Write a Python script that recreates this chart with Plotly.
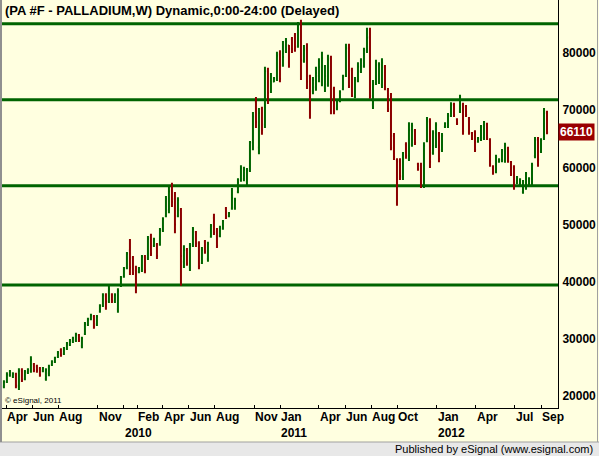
import pandas as pd
import plotly.graph_objects as go

# ---------------- data (weekly palladium futures) ----------------
open_ = [21700,22500,23700,23500,23800,21800,24500,23000,24200,24500,
         25600,25200,24800,24400,23000,24000,25500,26000,26900,28100,
         27400,28300,29000,29600,29800,30700,28800,30900,32500,33500,
         33900,32600,34800,35900,37600,36600,37800,36600,35200,39300,
         40900,42500,45500,44200,42000,41700,42000,44400,44200,47800,
         46300,46500,46500,49000,51500,52500,56800,54500,51500,52500,
         43500,45500,42500,46500,48700,46800,43300,47000,44000,47900,
         51200,48800,48000,49300,52800,51500,52800,53000,55700,57800,
         58000,57500,59500,64300,71500,63500,70200,67500,76800,73300,
         75000,75500,79800,77800,80300,81300,82400,83000,81200,85000,
         78600,80800,76000,73300,74000,76000,75000,74000,74500,79100,
         73700,70300,71600,73700,76000,80800,77000,72300,75200,76800,
         77700,80400,82800,71000,74800,75000,74500,77500,73500,72500,
         65500,61300,61200,58300,64000,61500,64000,66400,60600,60300,
         56800,64700,68000,62500,63800,65900,63000,67100,67200,69000,
         71000,68400,69800,71000,70600,68400,66000,66200,64500,64900,
         65200,67500,64800,60200,59300,61000,61200,61200,63300,60900,
         60000,57300,57100,55700,56400,57100,57000,62000,64800,62800,
         65200,69500]
high = [22800,24200,24600,24200,24100,24900,24900,24600,24900,27000,
        25800,25500,25100,25100,24900,25500,26300,26900,27900,28400,
        28600,29500,30000,30400,31100,30900,30400,33000,33700,34400,
        34200,34200,36100,38000,38000,39400,38000,38000,38900,41000,
        42600,45200,47500,44500,42800,42600,44700,44700,48000,48400,
        47700,46800,49400,51300,55000,56800,57300,55700,54800,52900,
        46400,45900,46800,49600,48900,47100,46100,47300,47000,50100,
        51900,49400,49800,50800,53100,52200,56400,54700,58100,60400,
        60100,59900,64600,69700,72300,70400,70600,77600,77400,76500,
        75800,80200,80500,82100,82600,81400,82800,83500,85400,85800,
        81400,81700,76200,75800,77600,79100,80200,77900,79700,79500,
        74100,71800,73500,76200,81600,81600,77400,75800,78400,79100,
        80900,84400,84400,75300,78800,78400,79100,77900,73900,73000,
        66000,61600,61600,62700,64400,67900,67800,66700,60800,60800,
        64400,68800,68600,66500,67900,66200,66000,67900,69500,71400,
        71300,68600,72700,71300,70900,68800,66200,66500,65300,67400,
        68100,67800,65100,60400,62200,61600,63200,64300,63600,61100,
        60400,58500,58100,57800,59200,58300,60800,65300,65300,65100,
        70400,69900]
low = [21400,22300,23400,23200,21400,21100,22500,22800,23900,24100,
       24200,24100,23400,24200,22700,23500,25300,25800,26700,26900,
       27200,28100,28800,29300,29500,29500,28400,30700,32300,33300,
       31800,32300,34600,35600,35100,36300,36300,36300,34600,39100,
       40700,42200,41200,41200,38000,41500,41700,41500,43800,44500,
       46100,44000,46300,48700,51300,52000,53100,48500,51300,39300,
       42400,42800,41900,46100,46100,42200,43100,44900,43500,47700,
       48200,45900,47800,49100,51000,51300,52600,52600,55500,57500,
       57600,56900,59200,63000,66900,62300,65700,66900,71100,73000,
       74900,75100,74900,77600,80000,77400,80000,80200,80900,75300,
       78300,73700,68500,72800,73400,74900,74200,73200,74100,69300,
       69300,70000,71400,73500,75800,73900,72300,72100,74900,76500,
       77400,80000,72000,70200,74400,74600,73900,73500,69700,63000,
       61300,53300,57800,57800,61500,61100,63600,63900,59400,56400,
       56400,64400,59900,62200,63400,60900,62700,66900,66900,68800,
       68800,67400,69500,65700,68800,65700,64800,62700,64300,64600,
       64800,64800,60100,58700,59000,60800,60900,60800,60800,58500,
       56100,57100,56900,55400,56100,56900,56600,61600,60100,62500,
       64800,65800]
close = [22500,23800,24300,23900,21900,24400,22900,24300,24700,26400,
         24600,24500,23700,24900,24600,25200,26100,26700,27600,27100,
         28300,29200,29700,30200,30800,29800,30100,32600,33400,34100,
         32200,33900,35800,37600,36500,38700,36700,37700,38400,40700,
         42300,44900,42500,41600,39000,42400,44400,42000,47500,44900,
         47400,44500,49000,51000,54500,55800,54000,50000,54300,44500,
         45500,43200,46300,49200,46700,42700,45600,45300,46600,49800,
         48600,46300,49500,50600,51300,52000,54700,54300,57400,59900,
         59600,59500,64400,68900,67900,69500,66500,76800,73000,76000,
         75600,79500,75500,79300,82000,80700,80700,81000,84900,78800,
         80500,75000,75600,75300,76500,77600,79100,76000,78800,71400,
         69800,71500,73200,75900,80900,74200,72500,75300,77600,78800,
         80500,82600,72500,74500,78000,78000,78300,74000,70200,63400,
         61800,61000,58500,61500,62000,66500,67300,64300,59700,56700,
         63800,68200,61000,66000,67500,61500,65600,67700,69100,71000,
         69100,67700,72300,66300,69200,66000,65000,63100,65100,67100,
         67900,65200,60600,59000,61800,61400,62900,63900,61100,58800,
         57000,58300,57900,57500,58900,58000,60400,64900,61400,64800,
         69800,66110]

first_week = "2009-03-27"
levels = [85100, 71830, 56790, 39440]            # horizontal support/resistance lines
last_price = 66110

month_ticks = ["2009-04-01","2009-06-01","2009-08-01","2009-11-01","2010-01-01","2010-02-01",
               "2010-04-01","2010-06-01","2010-08-01","2010-11-01","2011-01-01","2011-04-01",
               "2011-06-01","2011-08-01","2011-10-01","2012-01-01","2012-04-01","2012-07-01",
               "2012-09-01"]
month_labels = [("2009-04-01","Apr"),("2009-06-01","Jun"),("2009-08-01","Aug"),("2009-11-01","Nov"),
                ("2010-02-01","Feb"),("2010-04-01","Apr"),("2010-06-01","Jun"),("2010-08-01","Aug"),
                ("2010-11-01","Nov"),("2011-01-01","Jan"),("2011-04-01","Apr"),("2011-06-01","Jun"),
                ("2011-08-01","Aug"),("2011-10-01","Oct"),("2012-01-01","Jan"),("2012-04-01","Apr"),
                ("2012-07-01","Jul"),("2012-09-01","Sep")]
year_labels = [("2010-01-01","2010"),("2011-01-01","2011"),("2012-01-01","2012")]
y_ticks = [20000, 30000, 40000, 50000, 60000, 70000, 80000]

dates = pd.date_range(first_week, periods=len(close), freq="7D")

# ---------------- style ----------------
W, H = 599, 456
ML, MR, MT, MB = 2, 41, 0, 48
PW, PH = W - ML - MR, H - MT - MB
BG = "#FFFFE0"
GREEN = "#006400"
RED = "#8B0000"
FONT = "Arial, Liberation Sans, sans-serif"

def px_x(p):  # pixel -> paper x
    return (p - ML) / PW

def px_y(p):  # pixel -> paper y
    return (H - MB - p) / PH

fig = go.Figure(go.Ohlc(
    x=dates, open=open_, high=high, low=low, close=close,
    increasing=dict(line=dict(color=GREEN, width=2)),
    decreasing=dict(line=dict(color=RED, width=2)),
    tickwidth=0.35, hoverinfo="skip", showlegend=False,
))

shapes = []
for lv in levels:
    shapes.append(dict(type="line", xref="paper", yref="y", x0=px_x(1), x1=1, y0=lv, y1=lv,
                       line=dict(color=GREEN, width=3), layer="below"))
# bottom status strip
shapes.append(dict(type="rect", xref="paper", yref="paper", x0=px_x(0), x1=px_x(W),
                   y0=px_y(H), y1=px_y(442), fillcolor="#E8E8E8", line=dict(width=0), layer="below"))
shapes.append(dict(type="line", xref="paper", yref="paper", x0=px_x(0), x1=px_x(W),
                   y0=px_y(442), y1=px_y(442), line=dict(color="#A0A0A0", width=1)))
# frame lines
shapes.append(dict(type="line", xref="paper", yref="paper", x0=px_x(1), x1=px_x(1),
                   y0=px_y(442), y1=1, line=dict(color="#909090", width=2)))
shapes.append(dict(type="line", xref="paper", yref="paper", x0=px_x(597.5), x1=px_x(597.5),
                   y0=px_y(442), y1=1, line=dict(color="#A0A0A0", width=1)))

ann = []
ann.append(dict(text="<b>(PA #F - PALLADIUM,W) Dynamic,0:00-24:00 (Delayed)</b>",
                xref="paper", yref="paper", x=px_x(3), y=px_y(10), xanchor="left", yanchor="middle",
                showarrow=False, font=dict(family=FONT, size=13, color="black")))
for d, t in month_labels:
    ann.append(dict(text=f"<b>{t}</b>", xref="x", yref="paper", x=d, y=px_y(417),
                    xanchor="left", yanchor="middle", showarrow=False, xshift=-1,
                    font=dict(family=FONT, size=12, color="black")))
for d, t in year_labels:
    ann.append(dict(text=f"<b>{t}</b>", xref="x", yref="paper", x=d, y=px_y(433),
                    xanchor="left", yanchor="middle", showarrow=False, xshift=-1,
                    font=dict(family=FONT, size=12, color="black")))
ann.append(dict(text="© eSignal, 2011", xref="paper", yref="paper", x=px_x(3), y=px_y(400),
                xanchor="left", yanchor="middle", showarrow=False,
                font=dict(family=FONT, size=8, color="black")))
ann.append(dict(text=f"<b>{last_price}</b>", xref="paper", yref="y", x=1, y=last_price,
                xanchor="left", yanchor="middle", showarrow=False, xshift=0,
                bgcolor="#990000", borderpad=1,
                font=dict(family=FONT, size=12, color="white")))
ann.append(dict(text="Published by eSignal (www.esignal.com)", xref="paper", yref="paper",
                x=px_x(595), y=px_y(449), xanchor="right", yanchor="middle", showarrow=False,
                font=dict(family=FONT, size=11, color="black")))

fig.update_layout(
    width=W, height=H,
    margin=dict(l=ML, r=MR, t=MT, b=MB, pad=0),
    paper_bgcolor=BG, plot_bgcolor=BG,
    shapes=shapes, annotations=ann,
    showlegend=False,
    xaxis=dict(type="date", range=["2009-03-22 12:00", "2012-10-09 16:00"],
               rangeslider=dict(visible=False), showgrid=False, zeroline=False,
               tickvals=month_ticks, showticklabels=False, ticks="inside", ticklen=3,
               tickcolor="black", showline=True, linecolor="black", linewidth=1),
    yaxis=dict(side="right", range=[17946, 89264], tickvals=y_ticks,
               ticktext=[f"<b>{v}</b>" for v in y_ticks],
               tickfont=dict(family=FONT, size=12, color="black"),
               showgrid=False, zeroline=False, showline=True, linecolor="black", linewidth=1,
               ticks="", ticklabelstandoff=1),
)

fig.write_html("out.html")
